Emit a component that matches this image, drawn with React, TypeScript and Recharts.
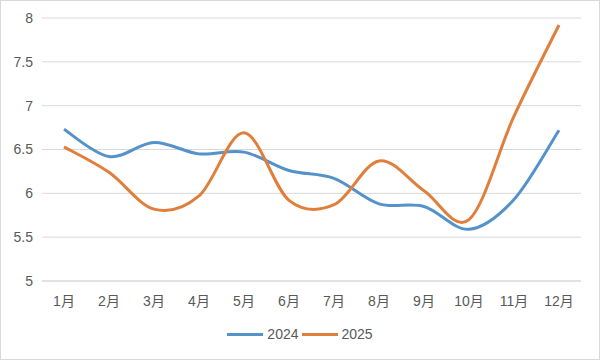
import React from 'react';
import { LineChart, Line, XAxis, YAxis, CartesianGrid } from 'recharts';

const months = ['1月', '2月', '3月', '4月', '5月', '6月', '7月', '8月', '9月', '10月', '11月', '12月'];
const values2024 = [6.73, 6.42, 6.58, 6.45, 6.47, 6.26, 6.17, 5.88, 5.85, 5.59, 5.93, 6.72];
const values2025 = [6.53, 6.24, 5.82, 5.97, 6.69, 5.92, 5.87, 6.37, 6.03, 5.7, 6.88, 7.92];
const yTicks = [5, 5.5, 6, 6.5, 7, 7.5, 8];
const seriesNames = ['2024', '2025'];
const seriesColors = ['#5592CA', '#E07E3C'];

const data = months.map((m, i) => ({ month: m, '2024': values2024[i], '2025': values2025[i] }));

// Excel-like smoothing (uniform Catmull-Rom as cubic Bezier)
const smoothCurve: any = (context: any) => {
  let pts: number[][] = [];
  return {
    areaStart() {},
    areaEnd() {},
    lineStart() {
      pts = [];
    },
    point(x: number, y: number) {
      pts.push([+x, +y]);
    },
    lineEnd() {
      if (!pts.length) return;
      context.moveTo(pts[0][0], pts[0][1]);
      for (let i = 0; i < pts.length - 1; i++) {
        const p0 = pts[i - 1] || pts[i];
        const p1 = pts[i];
        const p2 = pts[i + 1];
        const p3 = pts[i + 2] || pts[i + 1];
        const c1x = p1[0] + (p2[0] - p0[0]) / 6;
        const c1y = p1[1] + (p2[1] - p0[1]) / 6;
        const c2x = p2[0] - (p3[0] - p1[0]) / 6;
        const c2y = p2[1] - (p3[1] - p1[1]) / 6;
        context.bezierCurveTo(c1x, c1y, c2x, c2y, p2[0], p2[1]);
      }
    },
  };
};

const font = "'Liberation Sans', 'Noto Sans CJK SC', sans-serif";

export default function App() {
  return (
    <div
      style={{
        position: 'absolute',
        left: 0,
        top: 0,
        width: 598,
        height: 358,
        border: '1px solid #d9d9d9',
        background: '#fff',
        overflow: 'hidden',
      }}
    >
      <div style={{ position: 'absolute', left: -1, top: -1 }}>
        <LineChart width={600} height={360} data={data} margin={{ top: 18, right: 19, left: 0, bottom: 49 }}>
          <CartesianGrid vertical={false} stroke="#d9d9d9" strokeWidth={1} />
          <XAxis
            dataKey="month"
            padding={{ left: 22, right: 22 }}
            height={30}
            tickSize={0}
            tickMargin={15}
            axisLine={{ stroke: '#d9d9d9' }}
            tick={{ fill: '#595959', fontSize: 14, fontFamily: font }}
            interval={0}
          />
          <YAxis
            domain={[5, 8]}
            ticks={yTicks}
            width={42}
            tickSize={0}
            tickMargin={9}
            axisLine={false}
            tick={{ fill: '#595959', fontSize: 14, fontFamily: font }}
          />
          {seriesNames.map((name, i) => (
            <Line
              key={name}
              dataKey={name}
              type={smoothCurve}
              stroke={seriesColors[i]}
              strokeWidth={3}
              dot={false}
              activeDot={false}
              isAnimationActive={false}
            />
          ))}
        </LineChart>
      </div>
      <div
        style={{
          position: 'absolute',
          left: 0,
          width: 598,
          top: 325,
          display: 'flex',
          justifyContent: 'center',
          alignItems: 'center',
          fontFamily: font,
          fontSize: 14,
          color: '#595959',
        }}
      >
        {seriesNames.map((name, i) => (
          <div key={name} style={{ display: 'flex', alignItems: 'center', marginRight: i === 0 ? 3 : 0 }}>
            <div style={{ width: 36, height: 3, background: seriesColors[i], marginRight: 4 }} />
            <span>{name}</span>
          </div>
        ))}
      </div>
    </div>
  );
}
